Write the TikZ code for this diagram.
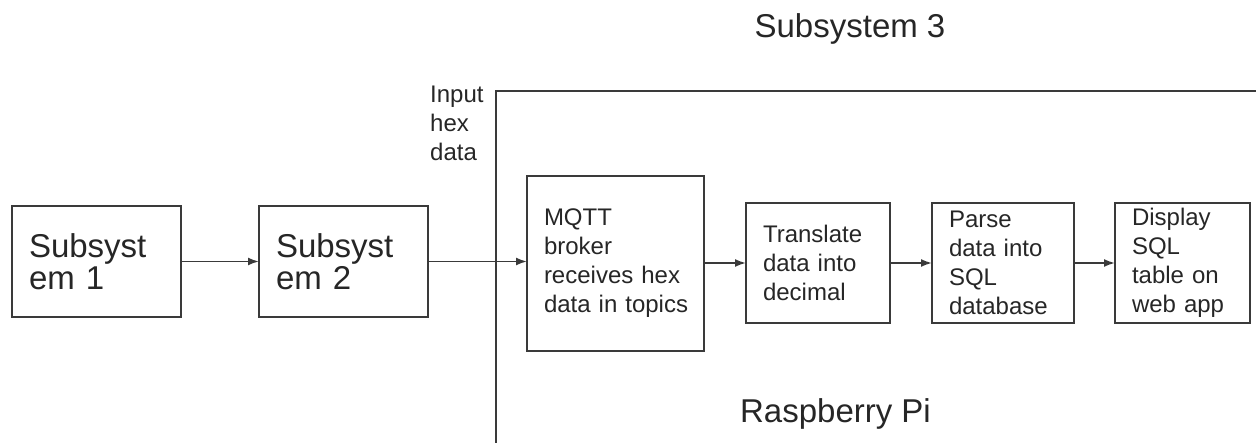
\documentclass[tikz,border=0pt]{standalone}
\usepackage{fontspec}
\setmainfont{Liberation Sans}
\usetikzlibrary{arrows.meta}
\definecolor{linegray}{HTML}{3A3A3A}
\definecolor{textgray}{HTML}{262626}
\tikzset{
  blockbig/.style={draw=linegray, line width=2pt, inner xsep=17pt, inner ysep=0pt, outer sep=0pt,
    align=left, text=textgray, font=\fontsize{33}{32}\selectfont},
  blocksmall/.style={draw=linegray, line width=2pt, inner xsep=17pt, inner ysep=0pt, outer sep=0pt,
    align=left, text=textgray, font=\fontsize{24}{29}\selectfont},
  arr/.style={draw=linegray, line width=1.8pt, -{Latex[length=11pt,width=8pt]}},
  frame/.style={draw=linegray, line width=2pt},
  lbl/.style={text=textgray, inner sep=0pt}
}
\begin{document}
\begin{tikzpicture}[x=1pt,y=-1pt]
\useasboundingbox (0,0) rectangle (1256,443);
% Raspberry Pi frame
\coordinate (piBL) at (496,443);
\coordinate (piTL) at (496,91);
\coordinate (piTR) at (1256,91);
\draw[frame] (piBL) -- (piTL) -- (piTR);
% blocks
\node[blockbig, text width=135pt, minimum height=111pt] (b1) at (96.5,261.5) {Subsyst\\em 1};
\node[blockbig, text width=135pt, minimum height=111pt] (b2) at (343.5,261.5) {Subsyst\\em 2};
\node[blocksmall, text width=143pt, minimum height=175pt] (mqtt) at (615.5,263.5) {MQTT\\broker\\receives hex\\\mbox{data in topics}};
\node[blocksmall, text width=110pt, minimum height=120pt] (trans) at (818,263) {Translate\\data into\\decimal};
\node[blocksmall, text width=108pt, minimum height=120pt] (parse) at (1003,263) {Parse\\data into\\SQL\\database};
\node[blocksmall, text width=101pt, minimum height=120pt] (disp) at (1182.5,263) {Display\\SQL\\table on\\web app};
% connectors
\draw[arr] (b1) -- (b2);
\draw[arr] (b2.east) -- (b2.east -| mqtt.west);
\draw[arr] (mqtt.east |- trans.west) -- (trans.west);
\draw[arr] (trans) -- (parse);
\draw[arr] (parse) -- (disp);
% labels
\node[lbl, anchor=base, font=\fontsize{33}{33}\selectfont] (title) at (850,38) {Subsystem 3};
\node[lbl, anchor=base, font=\fontsize{33}{33}\selectfont] (pi) at (835.5,423) {Raspberry Pi};
\node[lbl, anchor=north west, align=left, font=\fontsize{24}{29}\selectfont] (input) at (430,86) {Input\\hex\\data};
\end{tikzpicture}
\end{document}
